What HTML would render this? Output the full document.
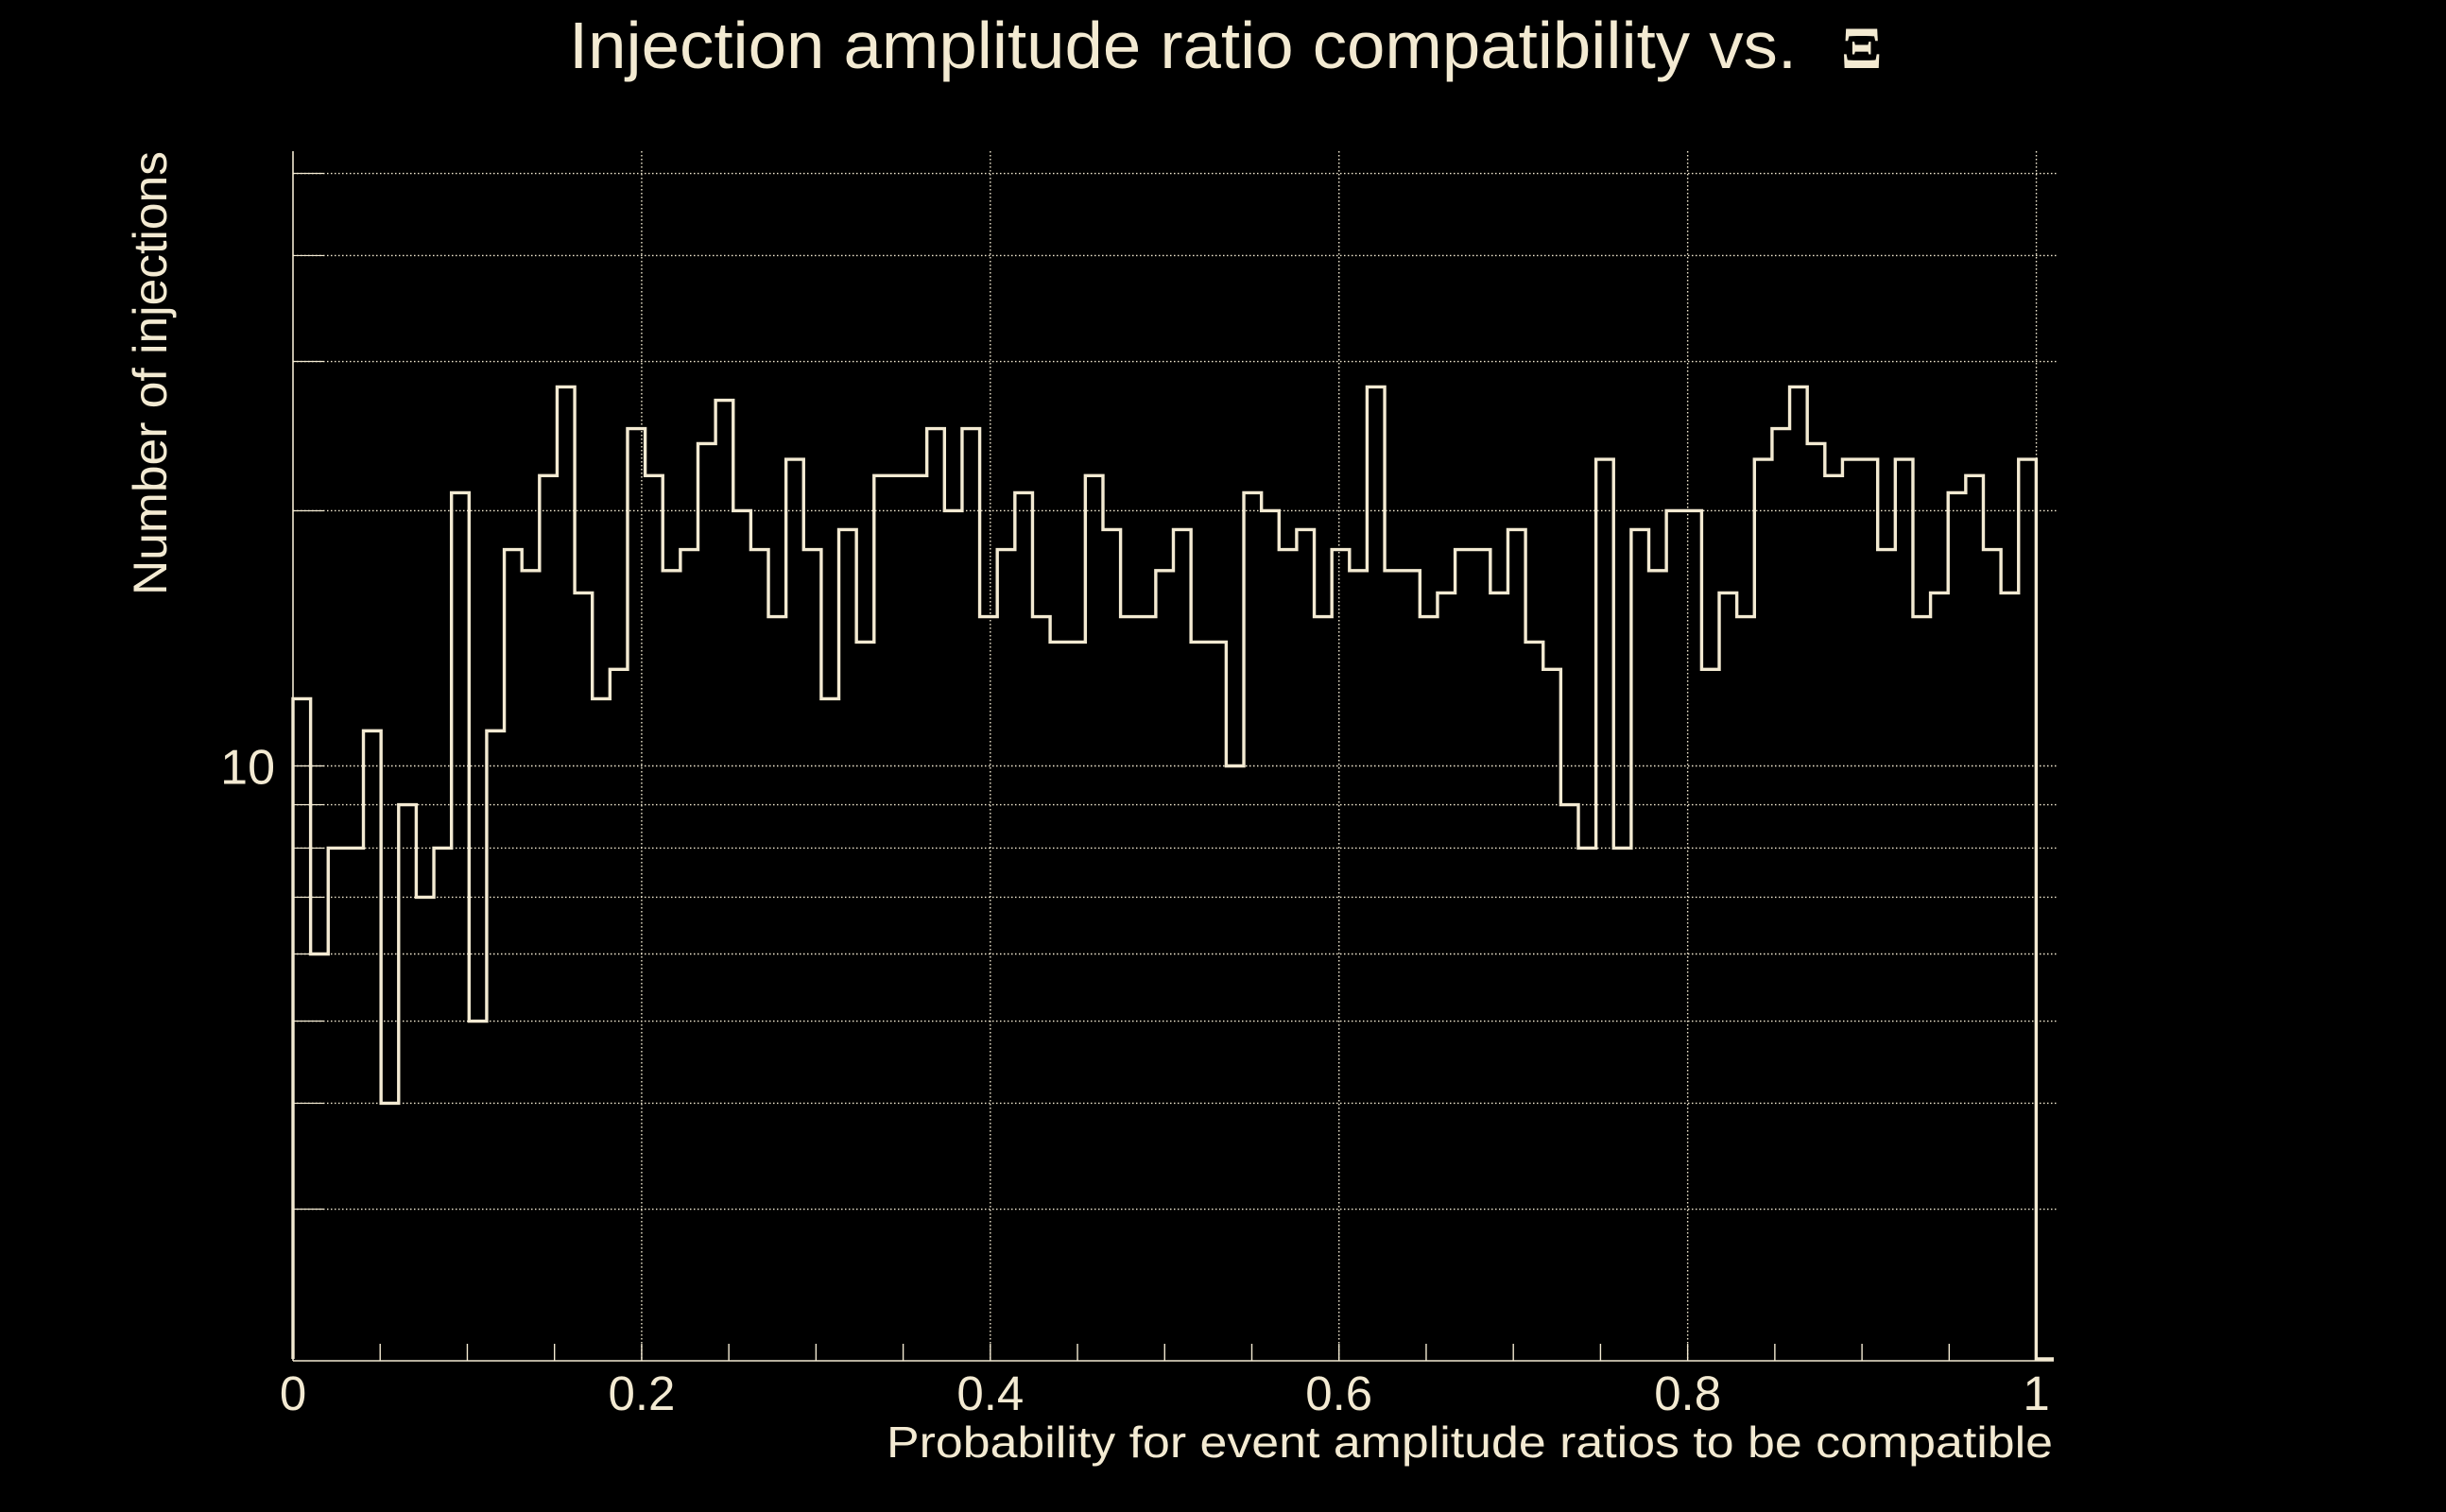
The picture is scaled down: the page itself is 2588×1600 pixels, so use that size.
<!DOCTYPE html>
<html><head><meta charset="utf-8"><style>
html,body{margin:0;padding:0;background:#000;}
svg{display:block;}
text{font-family:"Liberation Sans",sans-serif;fill:#f3ead2;}
</style></head>
<body>
<svg id="chart" width="2588" height="1600" viewBox="0 0 2588 1600" xmlns="http://www.w3.org/2000/svg">
<rect width="2588" height="1600" fill="#000"/>
<text x="602" y="72" font-size="70" textLength="1299" lengthAdjust="spacingAndGlyphs">Injection amplitude ratio compatibility vs.</text>
<text x="1948" y="72" font-size="64" font-weight="bold" style="font-family:'Liberation Serif',serif">Ξ</text>
<g id="grid"></g>
<g id="axes"></g>
<path id="hist" fill="none" stroke="#f3ead2" stroke-width="3.4" stroke-linejoin="miter"/>
<text x="2172" y="1542" font-size="46" text-anchor="end" textLength="1234" lengthAdjust="spacingAndGlyphs">Probability for event amplitude ratios to be compatible</text>
<text transform="translate(176,630) rotate(-90)" font-size="50" textLength="470" lengthAdjust="spacingAndGlyphs">Number of injections</text>
</svg>
<script>
const binCounts = [12,6,8,8,11,4,9,7,8,21,5,11,18,17,22,28,16,12,13,25,
22,17,18,24,27,20,18,15,23,18,12,19,14,22,22,22,25,20,25,15,
18,21,15,14,14,22,19,15,15,17,19,14,14,10,21,20,18,19,15,18,
17,28,17,17,15,16,18,18,16,19,14,13,9,8,23,8,19,17,20,20,
13,16,15,23,25,28,24,22,23,23,18,23,15,16,21,22,18,16,23,0];
const xRange = [0, 1.01];
const yRange = [2, 53];
const xTickValues = [0, 0.2, 0.4, 0.6, 0.8, 1];
const xTickLabels = ["0", "0.2", "0.4", "0.6", "0.8", "1"];
const yGridValues = [3,4,5,6,7,8,9,10,20,30,40,50];
const yTickLabelValues = [10];
const yTickLabels = ["10"];

const NS = "http://www.w3.org/2000/svg";
const X0 = 310, X1 = 2173, YB = 1438, YT = 160;
const Y10 = 810.5, DEC = 897;
const C = "#f3ead2";
function xs(v){ return X0 + (v - xRange[0]) / (xRange[1] - xRange[0]) * (X1 - X0); }
function ys(v){ if (v <= yRange[0]) return YB; return Math.max(YT, Y10 - DEC * Math.log10(v / 10)); }
function mk(tag, attrs, parent){ const e = document.createElementNS(NS, tag); for (const k in attrs) e.setAttribute(k, attrs[k]); parent.appendChild(e); return e; }

const grid = document.getElementById('grid');
const axes = document.getElementById('axes');
const svg = document.getElementById('chart');

yGridValues.forEach(v => {
  const y = ys(v);
  const g = mk('line', {x1: X0, x2: 2176, y1: y, y2: y, stroke: C, 'stroke-width': 1.4, 'stroke-dasharray': '1.5 2.5'}, grid);
  
  
  const t = mk('line', {x1: X0, x2: X0 + 32, y1: y, y2: y, stroke: C, 'stroke-width': 1.2}, axes);
  
  
});
xTickValues.forEach((v, i) => {
  const x = xs(v);
  if (i > 0) {
    const g = mk('line', {x1: x, x2: x, y1: YT, y2: YB, stroke: C, 'stroke-width': 1.4, 'stroke-dasharray': '1.5 2.5'}, grid);
    
    
  }
  const t = mk('text', {x: x, y: 1492, 'font-size': 51, 'text-anchor': 'middle'}, svg);
  t.textContent = xTickLabels[i];
  
  
});
for (let k = 1; k < 20; k++) {
  const x = xs(k * 0.05);
  const t = mk('line', {x1: x, x2: x, y1: 1440, y2: 1422, stroke: C, 'stroke-width': 1.4}, axes);
  
  
}
yTickLabelValues.forEach((v, i) => {
  const t = mk('text', {x: 291, y: ys(v) + 19, 'font-size': 52, 'text-anchor': 'end'}, svg);
  t.textContent = yTickLabels[i];
  
  
});
const xa = mk('line', {x1: X0, x2: X1, y1: 1440, y2: 1440, stroke: C, 'stroke-width': 1.6}, axes);


const ya = mk('line', {x1: X0, x2: X0, y1: YT, y2: 1440, stroke: C, 'stroke-width': 1.6}, axes);



const n = binCounts.length;
const bw = (xRange[1] - xRange[0]) / n;
let d = 'M' + xs(xRange[0]) + ' ' + YB;
binCounts.forEach((c, i) => {
  const xa_ = xs(xRange[0] + i * bw), xb_ = xs(xRange[0] + (i + 1) * bw), y = ys(c);
  d += ' L' + xa_ + ' ' + y + ' L' + xb_ + ' ' + y;
});
d += ' L' + xs(xRange[1]) + ' ' + YB;
document.getElementById('hist').setAttribute('d', d);
</script>
</body></html>
